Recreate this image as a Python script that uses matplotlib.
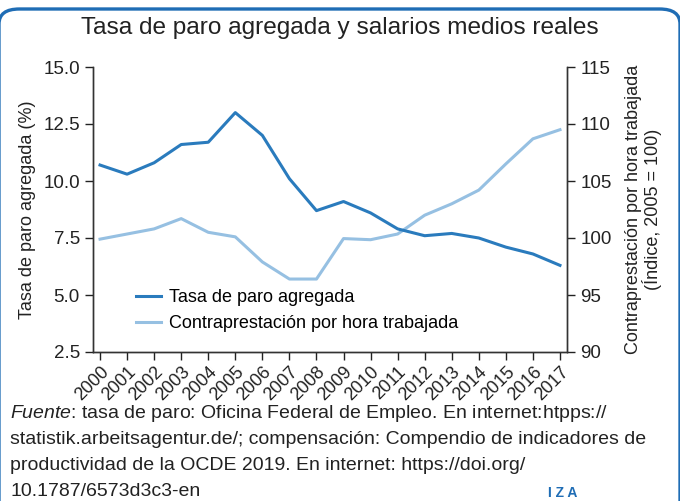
import matplotlib
matplotlib.use("Agg")
import matplotlib.pyplot as plt
from matplotlib.patches import FancyBboxPatch

plt.rcParams['font.family'] = ['Liberation Sans', 'DejaVu Sans']
plt.rcParams['mathtext.fontset'] = 'custom'
plt.rcParams['mathtext.rm'] = 'Liberation Sans'
plt.rcParams['mathtext.it'] = 'Liberation Sans:italic'

# datos
anios = list(range(2000, 2018))
paro = [10.7, 10.3, 10.8, 11.6, 11.7, 13.0, 12.0, 10.1, 8.7, 9.1,
        8.6, 7.9, 7.6, 7.7, 7.5, 7.1, 6.8, 6.3]
salarios = [99.9, 100.35, 100.8, 101.7, 100.5, 100.1, 97.9, 96.4, 96.4, 99.95,
            99.85, 100.35, 102.0, 103.0, 104.2, 106.5, 108.7, 109.5]

lineas_fuente = [
    '$\\it{Fuente}$: tasa de paro: Oficina Federal de Empleo. En internet:htpps://',
    'statistik.arbeitsagentur.de/; compensación: Compendio de indicadores de',
    'productividad de la OCDE 2019. En internet: https://doi.org/',
    '10.1787/6573d3c3-en',
]

azul_osc = '#2a7bbd'
azul_cla = '#96c0e2'

fig = plt.figure(figsize=(6.8, 5.01), dpi=100)

# marco redondeado azul (los lados quedan casi fuera de la imagen)
marco = FancyBboxPatch((-1 / 680, -0.2), 681 / 680, 1.2 - 9 / 501,
                       boxstyle='round,pad=0,rounding_size=0.03',
                       transform=fig.transFigure, fill=False,
                       edgecolor='#1f6db5', linewidth=2.4, clip_on=False)
fig.patches.append(marco)

fig.text(0.5, 0.944, 'Tasa de paro agregada y salarios medios reales',
         ha='center', va='center', fontsize=17.6, color='#222222')

ax = fig.add_axes([93 / 680, 149 / 501, 474 / 680, 285 / 501])
ax2 = ax.twinx()

l1, = ax.plot(anios, paro, color=azul_osc, linewidth=2.2,
              label='Tasa de paro agregada')
l2, = ax2.plot(anios, salarios, color=azul_cla, linewidth=2.2,
               label='Contraprestación por hora trabajada')
ax.set_zorder(ax2.get_zorder() + 1)
ax.patch.set_visible(False)

ax.set_xlim(2000 - 0.26, 2017 + 0.26)
ax.set_ylim(2.5, 15.0)
ax2.set_ylim(90, 115)
ax.set_yticks([2.5, 5.0, 7.5, 10.0, 12.5, 15.0])
ax.set_yticklabels(['2.5', '5.0', '7.5', '10.0', '12.5', '15.0'])
ax2.set_yticks([90, 95, 100, 105, 110, 115])
ax.set_xticks(anios)
ax.set_xticklabels([str(a) for a in anios], rotation=45, ha='right',
                   rotation_mode='anchor')

for a in (ax, ax2):
    a.spines['top'].set_visible(False)
    for s in ('left', 'right', 'bottom'):
        a.spines[s].set_color('#333333')
        a.spines[s].set_linewidth(1.0)
    a.tick_params(labelsize=13.5, colors='#222222', length=6, width=1)
ax.tick_params(axis='x', labelsize=13, pad=2)

ax.set_ylabel('Tasa de paro agregada (%)', fontsize=13, color='#222222',
              labelpad=5)
ax2.set_ylabel('Contraprestación por hora trabajada\n(Índice, 2005 = 100)',
               fontsize=13, color='#222222', labelpad=10, linespacing=0.95)

ax.legend(handles=[l1, l2], loc='upper left', bbox_to_anchor=(0.075, 0.245),
          frameon=False, fontsize=13, handlelength=1.4, handletextpad=0.45,
          labelspacing=0.5, borderaxespad=0)

# nota de fuente, una linea cada vez
for i, linea in enumerate(lineas_fuente):
    y_px = 413 + 26.3 * i
    fig.text(10 / 680, 1 - y_px / 501, linea, ha='left', va='center',
             fontsize=14, color='#222222')

fig.text(563 / 680, 1 / 501, 'I Z A', ha='center', va='bottom', fontsize=10,
         color='#1f6db5', fontweight='bold')

fig.savefig('out.png', dpi=100)
